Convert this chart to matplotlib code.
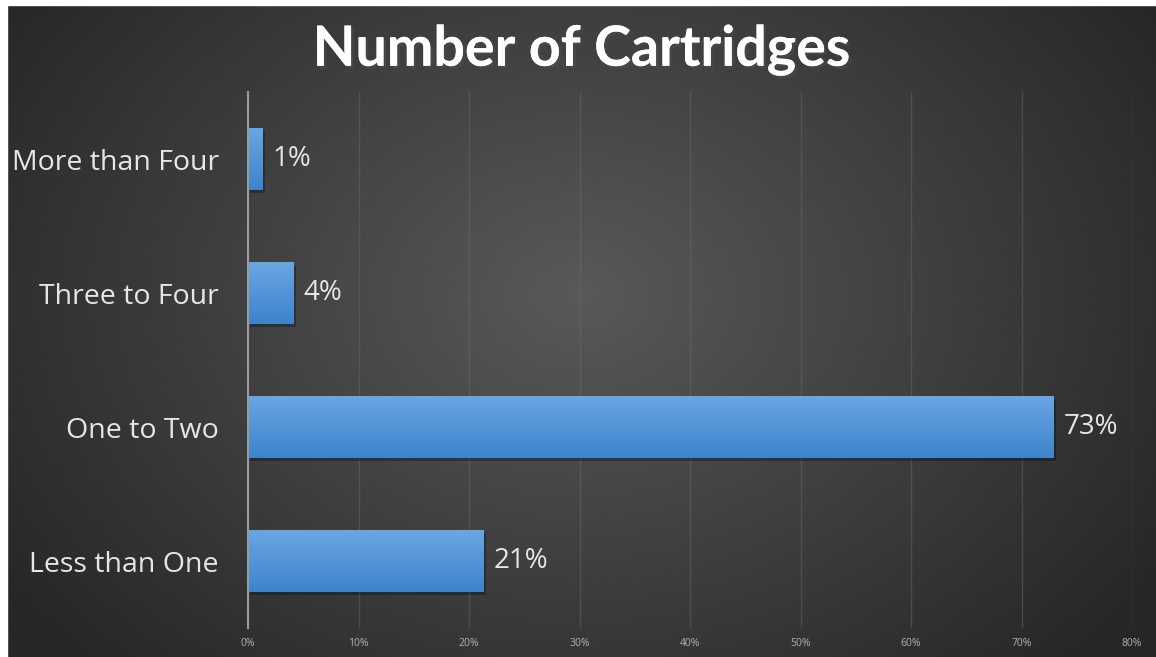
import numpy as np
import matplotlib
matplotlib.use('Agg')
from matplotlib import pyplot as plt
from matplotlib.patches import Rectangle
from matplotlib.colors import LinearSegmentedColormap
import matplotlib.patheffects as pe

# data
categories = ['Less than One', 'One to Two', 'Three to Four', 'More than Four']
shares = [21.3, 72.9, 4.1, 1.3]
ticks = [0, 10, 20, 30, 40, 50, 60, 70, 80]
tick_labels = ['{}%'.format(t) for t in ticks]

W, H = 1156, 657
fig = plt.figure(figsize=(W / 100, H / 100), dpi=100, facecolor='#282828')

# radial background
bg = fig.add_axes([0, 0, 1, 1], zorder=-10)
yy, xx = np.mgrid[0:1:300j, 0:1:500j]
r = np.sqrt(((xx - 0.5) * 1.0) ** 2 + ((yy - 0.45) * 0.75) ** 2)
shade = np.clip(0.35 - r * 0.34, 0.155, 0.35)
bg.imshow(shade, cmap='gray', vmin=0, vmax=1, extent=[-0.02, 1.02, -0.02, 1.02],
          aspect='auto', interpolation='bicubic')
bg.set_xlim(0, 1)
bg.set_ylim(0, 1)
bg.set_axis_off()
# white margins on top and left
fig.patches.append(Rectangle((0, 1 - 5 / H), 1, 5 / H, transform=fig.transFigure,
                             color='white', zorder=5))
fig.patches.append(Rectangle((0, 0), 7 / W, 1, transform=fig.transFigure,
                             color='white', zorder=5))

ax = fig.add_axes([248 / W, 1 - 628 / H, (1132 - 248) / W, (628 - 92) / H])
ax.patch.set_alpha(0)

y = np.arange(len(categories))
bars = ax.barh(y, shares, height=0.46, color='#4f93d8', zorder=3)

# shadows and gradient fill
grad = np.linspace(0, 1, 100).reshape(-1, 1)
bar_cmap = LinearSegmentedColormap.from_list('b', ['#3d84cc', '#6aa6e2'])
for b in bars:
    x0, y0, w, h = b.get_x(), b.get_y(), b.get_width(), b.get_height()
    ax.add_patch(Rectangle((x0 + 0.2, y0 - 0.025), w, h, color='black',
                           alpha=0.28, zorder=2, lw=0))
    im = ax.imshow(grad, cmap=bar_cmap, extent=[x0, x0 + w, y0, y0 + h],
                   aspect='auto', zorder=3.5, origin='lower')
    im.set_clip_path(b)

for yi, v in zip(y, shares):
    ax.text(v + 0.9, yi, '{:.0f}%'.format(v), va='center', ha='left',
            color='#e6e6e6', fontsize=20, family='Open Sans')

ax.set_xlim(0, 80)
ax.set_ylim(-0.5, 3.5)
ax.set_xticks(ticks)
ax.set_xticklabels(tick_labels, color='#b0b0b0', fontsize=7.5, family='Open Sans')
ax.set_yticks(y)
ax.set_yticklabels(categories, color='#e6e6e6', fontsize=20.5, family='Open Sans')
ax.tick_params(axis='both', length=0)
ax.tick_params(axis='x', pad=7)
ax.tick_params(axis='y', pad=21)
ax.grid(axis='x', color='#6a6a6a', alpha=0.45, lw=1, zorder=0)
for s in ['top', 'right', 'bottom']:
    ax.spines[s].set_visible(False)
ax.spines['left'].set_color('#9a9a9a')
ax.spines['left'].set_linewidth(1.5)
ax.spines['left'].set_zorder(4)

fig.text(0.503, 1 - 50 / H, 'Number of Cartridges', ha='center', va='center',
         color='white', fontsize=40, fontweight='bold', family='Lato',
         path_effects=[pe.withSimplePatchShadow(offset=(2, -2), alpha=0.5),
                       pe.Normal()])

fig.savefig('out.png', dpi=100, facecolor=fig.get_facecolor())
